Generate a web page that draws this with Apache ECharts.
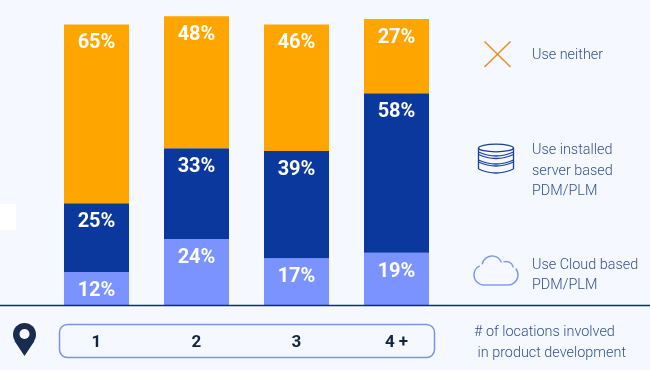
<!DOCTYPE html>
<html><head><meta charset="utf-8">
<style>html,body{margin:0;padding:0;background:#f5f9ff}#c{width:650px;height:370px}</style>
<script src="https://cdn.jsdelivr.net/npm/echarts@6/dist/echarts.min.js"></script>
</head><body><div id="c"></div>
<script>
const categories = ['1','2','3','4 +'];
const cloud = [12,24,17,19];
const installed = [25,33,39,58];
const neither = [65,48,46,27];
const legendNeither = 'Use neither';
const legendInstalled = 'Use installed\nserver based\nPDM/PLM';
const legendCloud = 'Use Cloud based\nPDM/PLM';
const axisNote = '# of locations involved\n in product development';

const chart = echarts.init(document.getElementById('c'), null, {renderer:'canvas'});
const lab = {show:true,position:'insideTop',distance:9,color:'#ffffff',fontFamily:'Roboto',fontWeight:'bold',fontSize:20,formatter:'{c}%'};
const mk = (name,data,color)=>({name,type:'bar',stack:'t',data,barWidth:65,itemStyle:{color},label:lab,silent:true});
const legText = (x,y,text)=>({type:'text',z:5,x,y,style:{text,fill:'#35518f',font:'300 14.4px Roboto',lineHeight:20.3,verticalAlign:'top'}});
const D = Math.PI/180;
const dbStroke = {fill:'none',stroke:'#1c3f96',lineWidth:1.3};
const cloudStroke = {fill:'none',stroke:'#8099e6',lineWidth:1.4};
const crossStroke = {stroke:'#ea8f2e',lineWidth:1.6};
const dbArc = y=>({type:'bezierCurve',z:5,shape:{x1:478.5,y1:y,x2:513.5,y2:y,cpx1:496,cpy1:y+8},style:dbStroke});
const arc = (cx,cy,r,a,b)=>({type:'arc',z:5,shape:{cx,cy,r,startAngle:a*D,endAngle:b*D,clockwise:true},style:cloudStroke});
chart.setOption({
  animation:false,
  backgroundColor:'#f5f9ff',
  grid:{left:46.5,width:400,top:0,height:305},
  xAxis:{type:'category',data:categories,
    axisLine:{show:false},axisTick:{show:false},
    axisLabel:{margin:29,color:'#14233f',fontFamily:'Roboto',fontWeight:'bold',fontSize:17}},
  yAxis:{type:'value',min:0,max:110.9,show:false,splitLine:{show:false}},
  series:[mk('Use Cloud based PDM/PLM',cloud,'#7a93ff'),mk('Use installed server based PDM/PLM',installed,'#0a389c'),mk('Use neither',neither,'#ffa500')],
  graphic:[
    {type:'rect',z:5,shape:{x:0,y:204,width:16,height:26},style:{fill:'#ffffff'}},
    {type:'line',z:5,shape:{x1:0,y1:305.5,x2:650,y2:305.5},style:{stroke:'#0f2a78',lineWidth:1.5}},
    {type:'rect',z:5,shape:{x:59.5,y:324.5,width:375,height:33,r:8},style:{fill:'none',stroke:'#7f92da',lineWidth:1.5}},
    // pin
    {type:'polygon',z:5,shape:{points:[[14.5,341],[34.5,341],[24.5,356]]},style:{fill:'#1a2c4e'}},
    {type:'circle',z:5,shape:{cx:24.5,cy:334.5,r:11.5},style:{fill:'#1a2c4e'}},
    {type:'circle',z:6,shape:{cx:24.5,cy:334,r:5},style:{fill:'#f5f9ff'}},
    // cross
    {type:'line',z:5,shape:{x1:484.5,y1:41.5,x2:510.5,y2:67},style:crossStroke},
    {type:'line',z:5,shape:{x1:510.5,y1:41.5,x2:484.5,y2:67},style:crossStroke},
    // database
    {type:'ellipse',z:5,shape:{cx:496,cy:148,rx:17.5,ry:3.8},style:dbStroke},
    {type:'line',z:5,shape:{x1:478.5,y1:148,x2:478.5,y2:169},style:dbStroke},
    {type:'line',z:5,shape:{x1:513.5,y1:148,x2:513.5,y2:169},style:dbStroke},
    dbArc(152),dbArc(154.5),dbArc(160),dbArc(162),dbArc(169),
    // cloud
    arc(484,275,10,90,245),
    arc(492,266,10,190,340),
    arc(506,269,7.5,250,350),
    arc(508,275,10,-40,90),
    {type:'line',z:5,shape:{x1:484,y1:285,x2:508,y2:285},style:cloudStroke},
    legText(532,45,legendNeither),
    legText(532,140.5,legendInstalled),
    legText(532,255,legendCloud),
    legText(474,322.5,axisNote)
  ]
});
</script></body></html>
